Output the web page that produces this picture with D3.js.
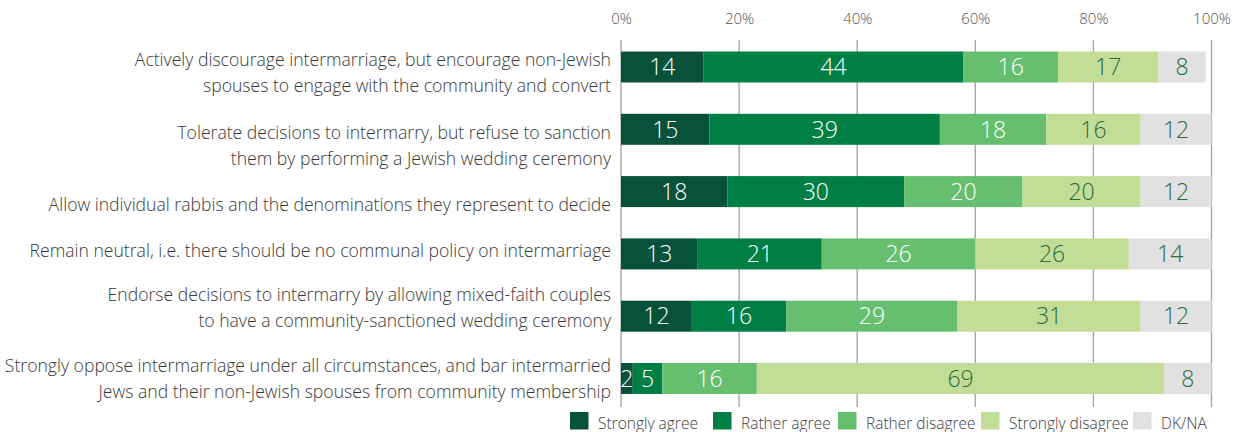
<!DOCTYPE html>
<html>
<head>
<meta charset="utf-8">
<script src="https://cdn.jsdelivr.net/npm/d3@7"></script>
<style>
  html, body { margin: 0; padding: 0; background: #fff; }
  svg { display: block; font-family: "Open Sans", "Noto Sans", sans-serif; }
</style>
</head>
<body>
<svg id="chart" width="1233" height="432"></svg>
<script>
// Survey options on communal policy towards intermarriage (one entry per row, split into display lines)
const categories = [
  ["Actively discourage intermarriage, but encourage non-Jewish", "spouses to engage with the community and convert"],
  ["Tolerate decisions to intermarry, but refuse to sanction", "them by performing a Jewish wedding ceremony"],
  ["Allow individual rabbis and the denominations they represent to decide"],
  ["Remain neutral, i.e. there should be no communal policy on intermarriage"],
  ["Endorse decisions to intermarry by allowing mixed-faith couples", "to have a community-sanctioned wedding ceremony"],
  ["Strongly oppose intermarriage under all circumstances, and bar intermarried", "Jews and their non-Jewish spouses from community membership"]
];

// Response shares (%) per row
const stronglyAgree    = [14, 15, 18, 13, 12, 2];
const ratherAgree      = [44, 39, 30, 21, 16, 5];
const ratherDisagree   = [16, 18, 20, 26, 29, 16];
const stronglyDisagree = [17, 16, 20, 26, 31, 69];
const dkNa             = [8, 12, 12, 14, 12, 8];

const seriesNames = ["Strongly agree", "Rather agree", "Rather disagree", "Strongly disagree", "DK/NA"];
const tickValues = [0, 20, 40, 60, 80, 100];

// Styling
const fills = ["#08513a", "#007f45", "#66bf6f", "#c2dd96", "#e0e1e0"];
const valueInk = ["#ffffff", "#ffffff", "#ffffff", "#2b6a3e", "#2b6a3e"];
// Baseline of the first label line, measured from the top of each row's band
const labelBaseline = [14.5, 25, 35, 18.5, 0.5, 9];
const lineHeight = 26;

const seriesValues = [stronglyAgree, ratherAgree, ratherDisagree, stronglyDisagree, dkNa];
const rows = categories.map((lines, i) => {
  let acc = 0;
  const segs = seriesValues.map((arr, k) => {
    const s = { key: k, x0: acc, x1: acc + arr[i], v: arr[i] };
    acc += arr[i];
    return s;
  });
  return { i, lines, segs };
});

const svg = d3.select("#chart");

const x = d3.scaleLinear().domain([0, 100]).range([621, 1211.5]);
const y = d3.scaleBand().domain(d3.range(categories.length))
  .range([51.5, 394]).paddingInner(0.5024).paddingOuter(0);

// Gridlines behind the bars
svg.append("g").selectAll("line").data(tickValues).join("line")
  .attr("x1", d => x(d)).attr("x2", d => x(d))
  .attr("y1", 40).attr("y2", 407)
  .attr("stroke", "#a8a8a8").attr("stroke-width", 1.4);

// Top axis labels
const axis = d3.axisTop(x).tickValues(tickValues).tickFormat(d => d + "%").tickSize(0).tickPadding(0);
const axisG = svg.append("g").attr("transform", "translate(0,24)").call(axis);
axisG.select(".domain").remove();
axisG.selectAll("text")
  .attr("font-family", "'Open Sans', sans-serif")
  .attr("font-weight", 300)
  .attr("font-size", 15)
  .attr("fill", "#555")
  .attr("dy", 0);

// Bars
const rowG = svg.append("g").selectAll("g").data(rows).join("g")
  .attr("transform", d => `translate(0,${y(d.i)})`);

rowG.selectAll("rect").data(d => d.segs).join("rect")
  .attr("x", d => x(d.x0))
  .attr("width", d => x(d.x1) - x(d.x0))
  .attr("y", 0)
  .attr("height", y.bandwidth())
  .attr("fill", d => fills[d.key]);

rowG.selectAll("text.val").data(d => d.segs).join("text")
  .attr("class", "val")
  .attr("x", d => (x(d.x0) + x(d.x1)) / 2)
  .attr("y", y.bandwidth() / 2)
  .attr("dy", "0.36em")
  .attr("text-anchor", "middle")
  .attr("font-weight", 300)
  .attr("font-size", 23)
  .attr("fill", d => valueInk[d.key])
  .text(d => d.v);

// Category labels, right aligned left of the plot
rowG.append("text")
  .attr("text-anchor", "end")
  .attr("font-weight", 300)
  .attr("font-size", 17.6)
  .attr("fill", "#383838")
  .selectAll("tspan").data(d => d.lines.map((t, j) => ({ t, j, i: d.i }))).join("tspan")
  .attr("x", 611)
  .attr("y", d => labelBaseline[d.i] + d.j * lineHeight)
  .text(d => d.t);

// Legend
const legendX = [570, 713, 838, 981, 1133];
const legend = svg.append("g").selectAll("g").data(seriesNames).join("g")
  .attr("transform", (d, k) => `translate(${legendX[k]},412)`);
legend.append("rect").attr("width", 18.5).attr("height", 17.5).attr("fill", (d, k) => fills[k]);
legend.append("text")
  .attr("x", 28).attr("y", 16.5)
  .attr("font-weight", 300)
  .attr("font-size", 15.5)
  .attr("fill", "#3d3d3d")
  .text(d => d);
</script>
</body>
</html>
